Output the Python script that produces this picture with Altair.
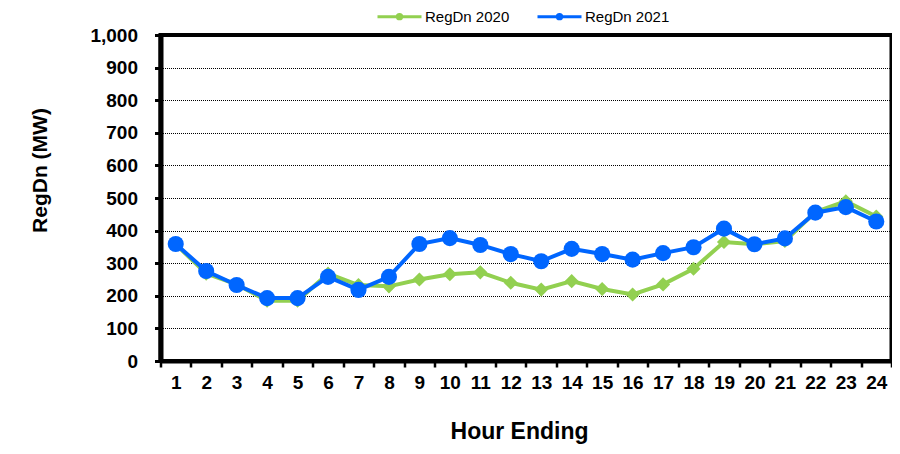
import altair as alt
import pandas as pd

hours = list(range(1, 25))
regdn_2020 = [358, 268, 235, 185, 185, 268, 233, 229, 250, 266, 272, 240,
              219, 245, 221, 204, 235, 283, 365, 358, 368, 457, 490, 443]
regdn_2021 = [359, 276, 233, 193, 193, 258, 218, 258, 359, 377, 356, 328,
              306, 344, 328, 311, 331, 349, 406, 358, 376, 455, 472, 428]
series_names = ["RegDn 2020", "RegDn 2021"]
series_colors = ["#92D050", "#0066FF"]
y_ticks = list(range(0, 1001, 100))

rows = []
for name, vals in zip(series_names, [regdn_2020, regdn_2021]):
    for h, v in zip(hours, vals):
        rows.append({"hour": h, "value": v, "series": name})
df = pd.DataFrame(rows)

FONT = "Liberation Sans"

x_enc = alt.X(
    "hour:O",
    scale=alt.Scale(type="band", paddingInner=0, paddingOuter=0),
    axis=alt.Axis(
        title="Hour Ending", labelAngle=0, tickBand="extent", tickSize=6,
        tickWidth=2.5, tickColor="black", labelFont=FONT, labelFontSize=19,
        labelFontWeight="bold", labelColor="black", labelPadding=6,
        domainWidth=4, domainColor="black", grid=False,
        titleFont=FONT, titleFontSize=23, titleFontWeight="bold",
        titleColor="black", titleX=358.5, titleY=77.5,
        titleBaseline="alphabetic", titleAlign="center",
    ),
)
y_enc = alt.Y(
    "value:Q",
    scale=alt.Scale(domain=[0, 1000], nice=False),
    axis=alt.Axis(
        title="RegDn (MW)", values=y_ticks, format=",d", grid=True,
        gridDash=[1, 1], gridColor="black", gridWidth=1, tickSize=6,
        tickWidth=3, tickColor="black", labelFont=FONT, labelFontSize=19,
        labelFontWeight="bold", labelColor="black", labelPadding=17,
        domainWidth=5, domainColor="black",
        titleFont=FONT, titleFontSize=21, titleFontWeight="bold",
        titleColor="black", titleX=-114.5, titleY=135, titleAngle=270,
        titleAlign="center", titleBaseline="alphabetic",
    ),
)

# line with a dot, drawn 2.2x wider than the symbol's layout box
legend_path = ("M-2.2,0H2.2M0.22,0A0.22,0.22 0 1 1 -0.22,0"
               "A0.22,0.22 0 1 1 0.22,0Z")
color_scale = alt.Scale(domain=series_names, range=series_colors)
color_leg = alt.Color(
    "series:N", scale=color_scale,
    legend=alt.Legend(
        title=None, orient="none", legendX=227.5, legendY=-30,
        direction="horizontal", symbolType=legend_path, symbolSize=400,
        symbolStrokeWidth=3, labelFont=FONT, labelFontSize=15,
        labelColor="black", labelOffset=14, columnPadding=21, padding=0,
    ),
)
color_plain = alt.Color("series:N", scale=color_scale)

base = alt.Chart(df)
layers = []
for i, name in enumerate(series_names):
    sub = base.transform_filter(alt.datum.series == name)
    line = sub.mark_line(strokeWidth=4).encode(
        x=x_enc, y=y_enc, color=color_leg if i == 0 else color_plain
    )
    if i == 0:
        pts = sub.mark_point(filled=True, shape="diamond", size=200,
                             opacity=1).encode(x=x_enc, y=y_enc, color=color_plain)
    else:
        pts = sub.mark_circle(size=260, opacity=1).encode(
            x=x_enc, y=y_enc, color=color_plain)
    layers += [line, pts]

chart = alt.layer(*layers).properties(
    width=731, height=326,
    autosize=alt.AutoSizeParams(type="none"),
    padding={"left": 152.5, "top": 27, "right": 0, "bottom": 90},
).configure_view(stroke="black", strokeWidth=4)

chart.save("out.html", embed_options={"renderer": "svg", "actions": False})
